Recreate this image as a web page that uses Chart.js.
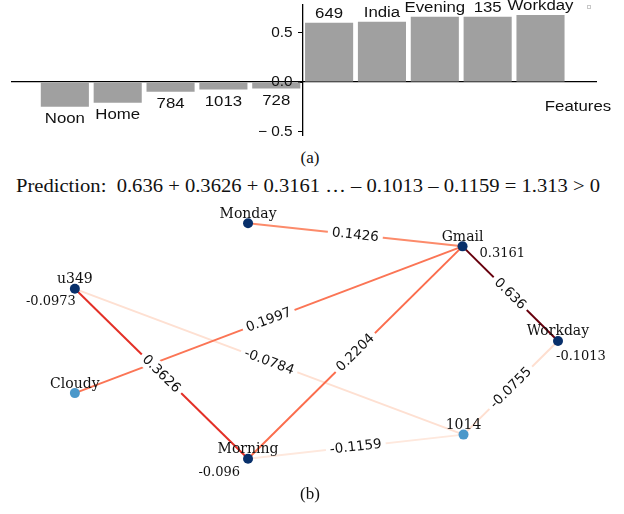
<!DOCTYPE html>
<html><head><meta charset="utf-8">
<script src="https://cdn.jsdelivr.net/npm/chart.js@4.4.0/dist/chart.umd.min.js"></script>
<style>
html,body{margin:0;padding:0;background:#fff;width:624px;height:514px;overflow:hidden;}
#wrap{position:relative;width:624px;height:514px;}
canvas{position:absolute;left:0;}
#c1{top:0;}
#c2{top:195px;}
.cap{position:absolute;left:0;width:620px;text-align:center;font-family:"Liberation Serif",serif;color:#111;line-height:20px;}
#capA{top:148px;font-size:17px;}
#capB{top:484px;font-size:17px;}
#pred{position:absolute;top:176px;left:16px;white-space:nowrap;font-family:"Liberation Serif",serif;font-size:18px;line-height:20px;color:#111;transform-origin:0 0;}
</style></head>
<body><div id="wrap">
<canvas id="c1" width="624" height="145"></canvas>
<div class="cap" id="capA">(a)</div>
<div id="pred">Prediction:&nbsp; 0.636 + 0.3626 + 0.3161 … – 0.1013 – 0.1159 = 1.313 &gt; 0</div>
<canvas id="c2" width="624" height="290"></canvas>
<div class="cap" id="capB">(b)</div>
</div>
<script>
// ---------- data: panel (a) ----------
const featureNames = ['Noon','Home','784','1013','728','649','India','Evening','135','Workday'];
const featureWeights = [-0.25,-0.21,-0.098,-0.074,-0.064,0.60,0.61,0.66,0.66,0.68];
const yTickValues = [-0.5, 0, 0.5];
const yTickLabels = ['\u2212 0.5', '0.0', '0.5'];
const xAxisTitle = 'Features';

// ---------- data: panel (b) ----------
const nodeNames = ['Monday','Gmail','u349','Workday','Cloudy','1014','Morning'];
const nodeX = [2.47, 4.65, 0.71, 5.62, 0.71, 4.66, 2.47];
const nodeY = [2.66, 2.42, 1.98, 1.44, 0.90, 0.47, 0.22];
const nodeValues = [null, 0.3161, -0.0973, -0.1013, null, null, -0.096];
const nodeGroup = [1, 1, 1, 1, 0, 0, 1];
const edgeFrom = ['Monday','Gmail','Gmail','Gmail','u349','u349','Workday','Morning'];
const edgeTo = ['Gmail','Workday','Cloudy','Morning','Morning','1014','1014','1014'];
const edgeWeights = [0.1426, 0.636, 0.1997, 0.2204, 0.3626, -0.0784, -0.0755, -0.1159];

// ---------- styles ----------
const valueLabelStyle = {
  Gmail:   {dx: 17, dy: 11, align: 'left'},
  u349:    {dx: 1,  dy: 16, align: 'right'},
  Workday: {dx: -2, dy: 19, align: 'left'},
  Morning: {dx: -8, dy: 17, align: 'right'}
};
const groupColors = ['#4b98ca', '#08306b'];
const reds = ['#fff5f0','#fee0d2','#fcbba1','#fc9272','#fb6a4a','#ef3b2c','#cb181d','#a50f15','#67000d'];
function hexRgb(h){return [parseInt(h.substr(1,2),16),parseInt(h.substr(3,2),16),parseInt(h.substr(5,2),16)];}
function redsColor(t){
  t = Math.max(0, Math.min(1, t));
  const p = t * (reds.length - 1);
  const i = Math.min(Math.floor(p), reds.length - 2);
  const f = p - i;
  const a = hexRgb(reds[i]), b = hexRgb(reds[i+1]);
  return 'rgb(' + a.map((v,k)=>Math.round(v + (b[k]-v)*f)).join(',') + ')';
}
function zeroPad(s){ s.paddingTop = 0; s.paddingBottom = 0; s.paddingLeft = 0; s.paddingRight = 0; }
function drawStretched(ctx, text, x, y, k){
  ctx.save(); ctx.translate(x, y); ctx.scale(k, 1); ctx.fillText(text, 0, 0); ctx.restore();
}

// ---------- chart (a) ----------
const barPos = featureNames.map((_, i) => i - (featureNames.length - 1) / 2);
const barLabelPlugin = {
  id: 'barLabels',
  afterDraw(chart){
    const ctx = chart.ctx, meta = chart.getDatasetMeta(0), area = chart.chartArea;
    const xs = chart.scales.x, ys = chart.scales.y;
    ctx.save();
    ctx.fillStyle = '#111';
    // y tick labels, from the y scale's ticks
    ctx.font = '14px "Liberation Sans", Arial, sans-serif';
    ctx.textAlign = 'right';
    ctx.textBaseline = 'middle';
    const ax = xs.getPixelForValue(0);
    ys.ticks.forEach(t => {
      const k = yTickValues.indexOf(t.value);
      if (k >= 0) drawStretched(ctx, yTickLabels[k], ax - 10, ys.getPixelForValue(t.value) + 0.5, 1.1);
    });
    // bar labels
    ctx.textAlign = 'center';
    ctx.textBaseline = 'alphabetic';
    meta.data.forEach((bar, i) => {
      const ty = featureWeights[i] >= 0 ? bar.y - 4.5 : bar.y + 16.5;
      drawStretched(ctx, featureNames[i], bar.x, ty, 1.2);
    });
    const y0 = ys.getPixelForValue(0);
    drawStretched(ctx, xAxisTitle, area.right - 18, y0 + 29, 1.2);
    ctx.strokeStyle = '#c8c8c8'; ctx.lineWidth = 1;
    ctx.strokeRect(area.right - 8.5, area.top + 0.5, 3, 3);
    ctx.restore();
  }
};
new Chart(document.getElementById('c1'), {
  type: 'bar',
  data: { datasets: [{
    data: barPos.map((x, i) => ({x: x, y: featureWeights[i]})),
    backgroundColor: '#a0a0a0', borderWidth: 0,
    barPercentage: 0.91, categoryPercentage: 1
  }]},
  options: {
    responsive: false, animation: false, devicePixelRatio: 1,
    layout: {padding: {left: 12, right: 28, top: 5, bottom: 10}},
    plugins: {legend: {display: false}, tooltip: {enabled: false}},
    scales: {
      x: {type: 'linear', min: -5.5, max: 5.55, offset: false, position: {y: 0}, z: 1,
          grid: {display: false}, ticks: {display: false},
          border: {display: true, color: '#000', width: 1.3}, afterFit: zeroPad},
      y: {type: 'linear', min: -0.535, max: 0.78, position: {x: 0}, z: 1,
          grid: {display: true, drawOnChartArea: false, drawTicks: true, tickLength: 4, color: '#000'},
          border: {display: true, color: '#000', width: 1.3},
          ticks: {display: false},
          afterBuildTicks: s => { s.ticks = yTickValues.map(v => ({value: v})); },
          afterFit: zeroPad}
    }
  },
  plugins: [barLabelPlugin]
});

// ---------- chart (b) ----------
const nIdx = n => nodeNames.indexOf(n);
const wMin = Math.min(...edgeWeights), wMax = Math.max(...edgeWeights);
const edgeDatasets = edgeWeights.map((w, e) => ({
  type: 'line',
  data: [{x: nodeX[nIdx(edgeFrom[e])], y: nodeY[nIdx(edgeFrom[e])]},
         {x: nodeX[nIdx(edgeTo[e])], y: nodeY[nIdx(edgeTo[e])]}],
  borderColor: redsColor(0.08 + 0.92 * (w - wMin) / (wMax - wMin)),
  borderWidth: 2, pointRadius: 0, showLine: true, fill: false
}));
const graphLabelPlugin = {
  id: 'graphLabels',
  afterDatasetsDraw(chart){
    const ctx = chart.ctx, xs = chart.scales.x, ys = chart.scales.y;
    ctx.save();
    // edge labels
    ctx.font = '13.5px "DejaVu Sans", sans-serif';
    ctx.textAlign = 'center'; ctx.textBaseline = 'middle';
    edgeWeights.forEach((w, e) => {
      const a = nIdx(edgeFrom[e]), b = nIdx(edgeTo[e]);
      const x1 = xs.getPixelForValue(nodeX[a]), y1 = ys.getPixelForValue(nodeY[a]);
      const x2 = xs.getPixelForValue(nodeX[b]), y2 = ys.getPixelForValue(nodeY[b]);
      let ang = Math.atan2(y2 - y1, x2 - x1);
      if (ang > Math.PI / 2) ang -= Math.PI;
      if (ang < -Math.PI / 2) ang += Math.PI;
      const txt = String(w);
      const tw = ctx.measureText(txt).width;
      ctx.save();
      ctx.translate((x1 + x2) / 2, (y1 + y2) / 2);
      ctx.rotate(ang);
      ctx.fillStyle = '#fff';
      ctx.fillRect(-tw / 2 - 4, -8.5, tw + 8, 17);
      ctx.fillStyle = '#111';
      ctx.fillText(txt, 0, 0.5);
      ctx.restore();
    });
    // node names and values
    ctx.textBaseline = 'alphabetic';
    nodeNames.forEach((n, i) => {
      const px = xs.getPixelForValue(nodeX[i]), py = ys.getPixelForValue(nodeY[i]);
      ctx.fillStyle = '#111';
      ctx.font = '14px "DejaVu Serif", serif';
      ctx.textAlign = 'center';
      ctx.fillText(n, px, py - 5.5);
      if (nodeValues[i] !== null) {
        const st = valueLabelStyle[n];
        ctx.font = '13px "DejaVu Serif", serif';
        ctx.textAlign = st.align;
        ctx.fillText(String(nodeValues[i]), px + st.dx, py + st.dy);
      }
    });
    ctx.restore();
  }
};
new Chart(document.getElementById('c2'), {
  type: 'scatter',
  data: { datasets: [{
    type: 'scatter',
    data: nodeNames.map((n, i) => ({x: nodeX[i], y: nodeY[i]})),
    pointRadius: 5, pointBorderWidth: 0,
    pointBackgroundColor: nodeGroup.map(g => groupColors[g]),
    backgroundColor: nodeGroup.map(g => groupColors[g])
  }].concat(edgeDatasets)},
  options: {
    responsive: false, animation: false, devicePixelRatio: 1,
    layout: {padding: 0},
    plugins: {legend: {display: false}, tooltip: {enabled: false}},
    scales: {
      x: {type: 'linear', min: 0, max: 6.24, display: false},
      y: {type: 'linear', min: 0, max: 2.9, display: false}
    }
  },
  plugins: [graphLabelPlugin]
});

// fit the prediction line to its width in the reference
function fitPred(){
  const el = document.getElementById('pred');
  el.style.transform = 'none';
  const w = el.getBoundingClientRect().width;
  if (w > 0) el.style.transform = 'scaleX(' + (584 / w) + ')';
}
fitPred();
if (document.fonts && document.fonts.ready) document.fonts.ready.then(fitPred);
</script>
</body></html>
